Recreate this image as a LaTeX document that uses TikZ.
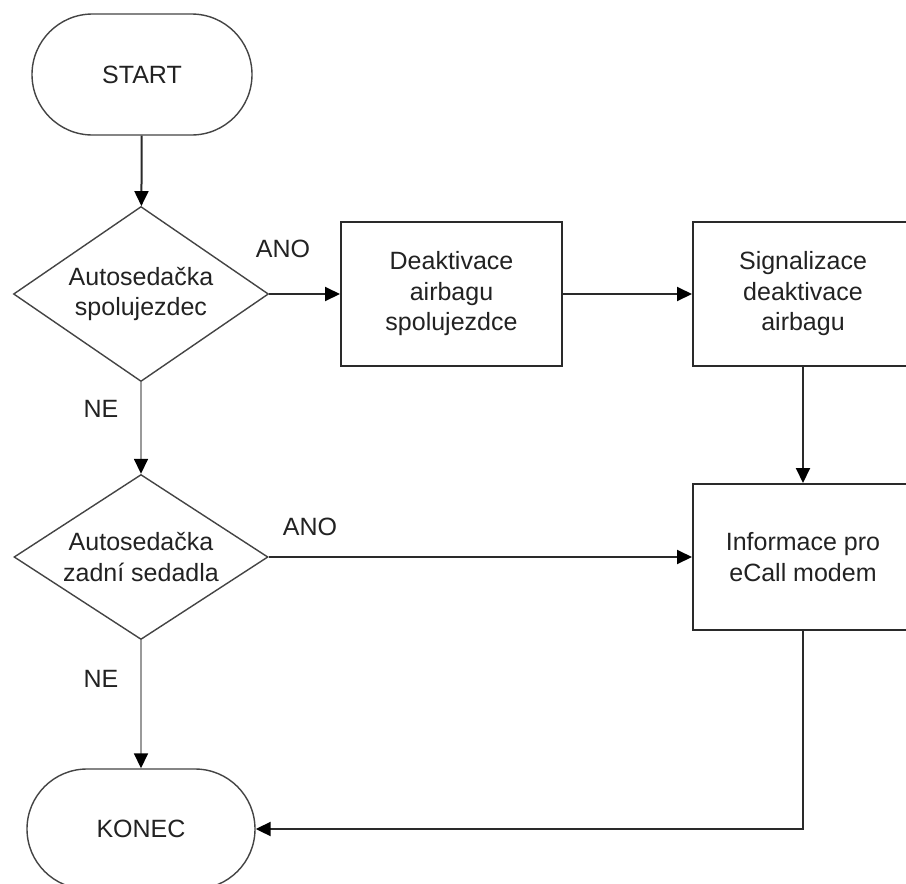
\documentclass[tikz,border=0pt]{standalone}
\usepackage{fontspec}
\setmainfont{Liberation Sans}
\usetikzlibrary{shapes.geometric,shapes.misc,arrows.meta}

\definecolor{edge}{HTML}{2A2A2A}
\definecolor{thin}{HTML}{444444}
\definecolor{greyline}{HTML}{9A9A9A}
\definecolor{ink}{HTML}{222222}

\tikzset{
  every node/.style={font=\fontsize{25}{30.5}\selectfont, text=ink, inner sep=0pt},
  term/.style={rounded rectangle, draw=thin, line width=1.4pt,
               minimum width=220pt, minimum height=121pt},
  decision/.style={diamond, draw=thin, line width=1.4pt, align=center},
  procbox/.style={rectangle, draw=edge, line width=2pt, align=center},
  arr/.style={draw=edge, line width=2pt,
              -{Triangle[length=15pt,width=14pt,color=black]}},
  greyarr/.style={draw=greyline, line width=1.6pt,
              -{Triangle[length=15pt,width=14pt,color=black]}},
  lbl/.style={font=\fontsize{25}{30}\selectfont}
}

\begin{document}
\begin{tikzpicture}[x=1pt,y=-1pt]
  \useasboundingbox (0,0) rectangle (906,884);
  \clip (0,0) rectangle (906,884);
  \fill[white] (0,0) rectangle (906,884);

  % terminals
  \node[term] (start) at (142,74.5) {START};
  \node[term, minimum width=228pt, minimum height=120pt] (konec) at (141,829) {KONEC};

  % decisions
  \node[decision, aspect=1.46, minimum width=255pt, minimum height=175pt] (d1) at (141,294)
       {Autosedačka\\spolujezdec};
  \node[decision, aspect=1.54, minimum width=254pt, minimum height=165pt] (d2) at (141,557)
       {Autosedačka\\zadní sedadla};

  % process boxes
  \node[procbox, minimum width=221pt, minimum height=144pt] (b1) at (451.5,294)
       {Deaktivace\\airbagu\\spolujezdce};
  \node[procbox, minimum width=220pt, minimum height=144pt] (b2) at (803,294)
       {Signalizace\\deaktivace\\airbagu};
  \node[procbox, minimum width=220pt, minimum height=146pt] (b3) at (803,557)
       {Informace pro\\eCall modem};

  % connectors
  \draw[arr] (start) -- (d1);
  \draw[arr] (d1.east) -- (b1.west);
  \draw[arr] (b1.east) -- (b2.west);
  \draw[arr] (b2.south) -- (b3.north);
  \draw[arr] (d2.east) -- (b3.west);
  \draw[arr] (b3.south) |- (konec.east);
  \draw[greyarr] (d1.south) -- (d2.north);
  \draw[greyarr] (d2.south) -- (konec.north);

  % branch labels
  \node[lbl] (ano1) at (283,249) {ANO};
  \node[lbl] (ano2) at (310,527) {ANO};
  \node[lbl] (ne1) at (101,409) {NE};
  \node[lbl] (ne2) at (101,679) {NE};
\end{tikzpicture}
\end{document}
